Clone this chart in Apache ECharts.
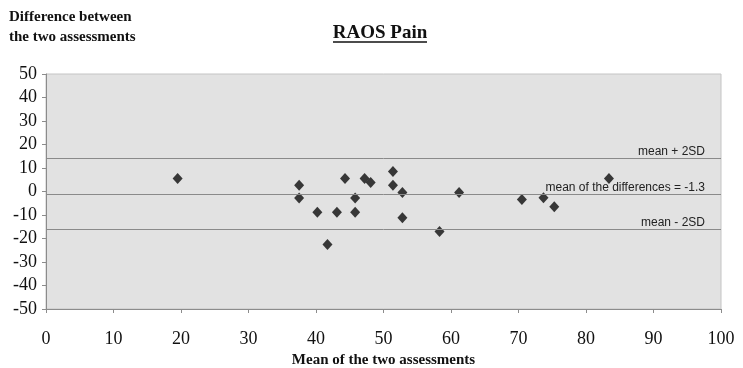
<!DOCTYPE html>
<html>
<head>
<meta charset="utf-8">
<style>html,body{margin:0;padding:0;background:#fff}#c{width:743px;height:368px}</style>
<script src="https://cdn.jsdelivr.net/npm/echarts@6/dist/echarts.min.js"></script>
</head>
<body>
<div id="c"></div>
<script>
var meanVals = [19.5, 37.5, 37.5, 40.2, 41.7, 43.1, 44.3, 45.8, 45.8, 47.2, 48.1, 51.4, 51.4, 52.8, 52.8, 58.3, 61.2, 70.5, 73.7, 75.3, 83.4];
var diffVals = [5.5, 2.7, -2.8, -8.8, -22.6, -8.8, 5.5, -2.8, -8.8, 5.5, 3.8, 8.5, 2.7, -0.4, -11.2, -17.0, -0.4, -3.4, -2.7, -6.5, 5.5];
var refValues = [14.0, -1.3, -16.2];
var refLabels = ['mean + 2SD', 'mean of the differences = -1.3', 'mean - 2SD'];
var xTicks = [0, 10, 20, 30, 40, 50, 60, 70, 80, 90, 100];
var yTicks = [-50, -40, -30, -20, -10, 0, 10, 20, 30, 40, 50];

var points = meanVals.map(function (m, i) { return [m, diffVals[i]]; });
var refs = refValues.map(function (v, i) {
  return { yAxis: v, label: { formatter: refLabels[i] } };
});

var chart = echarts.init(document.getElementById('c'));
chart.setOption({
  animation: false,
  backgroundColor: '#ffffff',
  graphic: [
    { type: 'text', x: 380, y: 24,
      style: { text: 'RAOS Pain', align: 'center', fontFamily: 'Liberation Serif', fontWeight: 'bold', fontSize: 19, fill: '#111' } },
    { type: 'line', shape: { x1: 333, y1: 42, x2: 427, y2: 42 }, style: { stroke: '#111', lineWidth: 1.5 } },
    { type: 'text', x: 9, y: 7,
      style: { text: 'Difference between\nthe two assessments', fontFamily: 'Liberation Serif', fontWeight: 'bold', fontSize: 15, lineHeight: 20, fill: '#111' } }
  ],
  grid: {
    left: 46, right: 22, top: 74, bottom: 59,
    outerBoundsMode: 'none',
    containLabel: false,
    show: true, backgroundColor: '#e2e2e2', borderColor: '#c4c4c4', borderWidth: 1
  },
  xAxis: {
    type: 'value', min: xTicks[0], max: xTicks[xTicks.length - 1], interval: 10,
    name: 'Mean of the two assessments', nameLocation: 'middle', nameGap: 40,
    nameTextStyle: { fontFamily: 'Liberation Serif', fontWeight: 'bold', fontSize: 15, color: '#111' },
    axisLine: { show: true, onZero: false, lineStyle: { color: '#8c8c8c', width: 1 } },
    axisTick: { show: true, length: 4, lineStyle: { color: '#8c8c8c' } },
    axisLabel: { fontFamily: 'Liberation Serif', fontSize: 18, color: '#111', margin: 21 },
    splitLine: { show: false }
  },
  yAxis: {
    type: 'value', min: yTicks[0], max: yTicks[yTicks.length - 1], interval: 10,
    axisLine: { show: true, onZero: false, lineStyle: { color: '#8c8c8c', width: 1 } },
    axisTick: { show: true, length: 4, lineStyle: { color: '#8c8c8c' } },
    axisLabel: { fontFamily: 'Liberation Serif', fontSize: 18, color: '#111', margin: 9 },
    splitLine: { show: false }
  },
  series: [{
    type: 'scatter',
    data: points,
    symbol: 'diamond',
    symbolSize: [10, 11],
    itemStyle: { color: '#0d0d0d' },
    markLine: {
      silent: true,
      symbol: 'none',
      lineStyle: { color: '#8a8a8a', width: 1, type: 'solid' },
      label: {
        show: true, position: 'insideEndTop', distance: [16, 1],
        fontFamily: 'Liberation Sans', fontSize: 12, color: '#222'
      },
      data: refs
    }
  }]
});
</script>
</body>
</html>
